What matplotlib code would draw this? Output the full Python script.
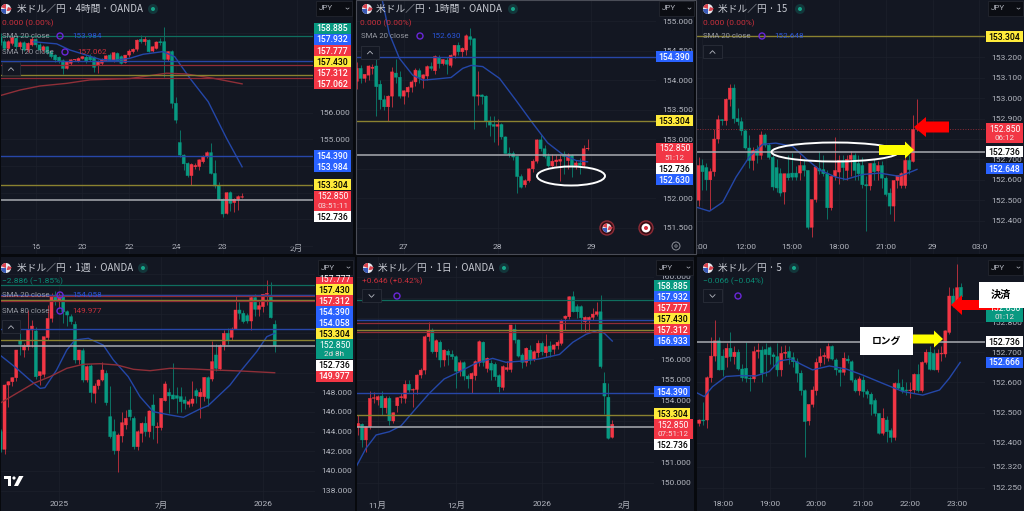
import matplotlib
matplotlib.use('Agg')
import matplotlib.pyplot as plt
from matplotlib.patches import Rectangle, Circle, Ellipse, Polygon, Wedge

plt.rcParams['font.family'] = ['Noto Sans CJK JP', 'DejaVu Sans']
NUM_FONT = ['Roboto', 'Noto Sans CJK JP']

BG = '#131722'
RED = '#f23645'
GREEN = '#089981'
BLUE = '#2962ff'
YELLOW = '#ffeb3b'
LINE_COL = {'g': '#0f6e5e', 'b': '#2746a8', 'r': '#8f2c37', 'y': '#8a8230', 'w': '#a9abb1'}
LINE_LW = {'g': 0.9, 'b': 1.0, 'r': 0.9, 'y': 1.0, 'w': 1.1}

# ---- candles: open, high, low, close
h4_first = -9
h4_ohlc = [
    (158.85,158.97,158.54,158.63),(158.66,158.75,158.35,158.41),(158.41,158.72,158.35,158.66),
    (158.60,158.90,158.55,158.82),(158.79,158.85,158.40,158.47),(158.47,158.70,158.40,158.62),
    (158.62,158.68,158.30,158.35),(158.35,158.65,158.28,158.60),(158.54,158.85,158.50,158.75),
    (158.75,158.80,158.48,158.54),(158.54,158.60,158.30,158.35),(158.35,158.52,158.28,158.47),
    (158.47,158.50,158.20,158.25),(158.29,158.33,158.05,158.10),(158.16,158.20,157.90,157.98),
    (158.08,158.12,157.85,157.91),(157.95,158.00,157.45,157.66),(157.66,157.95,157.62,157.91),
    (157.85,158.00,157.80,157.98),(157.98,158.02,157.93,158.00),(157.94,158.08,157.90,158.03),
    (158.03,158.12,158.00,158.10),(158.08,158.15,157.85,157.91),(158.10,158.20,157.95,157.98),
    (158.08,158.13,157.54,157.70),(157.79,157.98,157.47,157.91),(157.85,158.05,157.80,158.00),
    (157.95,158.18,157.92,158.13),(158.16,158.25,157.92,157.94),(157.95,158.28,157.90,158.25),
    (158.22,158.27,157.93,157.94),(158.10,158.15,157.82,157.85),(157.88,158.18,157.85,158.16),
    (158.16,158.40,158.10,158.31),(158.29,158.42,158.25,158.38),(158.38,158.75,158.32,158.72),
    (158.75,158.90,158.62,158.66),(158.66,158.88,158.55,158.75),(158.72,158.75,158.28,158.29),
    (158.31,158.50,158.28,158.47),(158.41,158.70,158.38,158.65),(158.66,158.80,158.55,158.62),
    (158.66,159.22,157.35,158.00),(158.00,158.30,157.95,158.29),(158.29,158.35,156.16,156.35),
    (156.35,156.60,155.62,155.72),(154.88,155.35,154.35,154.41),(154.41,154.45,153.85,154.08),
    (154.10,154.15,153.60,153.64),(153.64,154.12,153.29,154.06),(153.97,154.10,153.88,154.02),
    (153.98,154.28,153.85,154.23),(154.16,154.40,154.10,154.35),(154.35,154.55,154.30,154.50),
    (154.50,154.88,153.70,153.72),(153.72,154.22,153.16,153.25),(153.25,153.40,152.72,152.75),
    (152.75,152.80,152.10,152.20),(152.22,153.03,152.20,153.00),(153.00,153.05,152.30,152.60),
    (152.63,152.80,152.29,152.75),(152.75,152.90,152.35,152.85),(152.83,153.00,152.80,152.85),
]
h4_sma20_x = [-0.6,5.4,8.8,13,16.5,20,24.2,27.6,32.7,35.7,39.6,44.3,49,53]
h4_sma20 = [158.66,158.58,158.35,158.16,158.0,157.96,158.04,158.19,158.29,158.1,157.29,156.41,155.04,153.97]
h4_sma120_x = [-9.1,-4,1.1,8,14,24.2,33.6,38.7,45.6,53]
h4_sma120 = [156.64,156.85,157.0,157.1,157.23,157.28,157.48,157.45,157.29,157.08]

h1_first = -12
h1_ohlc = [
    (153.98,154.30,153.85,154.20),(154.20,154.25,153.95,154.03),(154.03,154.10,153.97,154.10),
    (154.085,154.26,154.00,154.24),(154.20,154.28,154.10,154.22),(154.24,154.40,153.39,153.89),
    (153.93,154.00,153.52,153.67),(153.67,153.75,153.50,153.55),(153.55,153.75,153.31,153.73),
    (153.73,154.22,153.55,154.14),(154.12,154.35,153.95,154.05),(154.05,154.16,153.70,153.73),
    (153.73,153.84,153.60,153.82),(153.80,153.90,153.72,153.88),(153.88,154.00,153.80,153.97),
    (153.97,154.20,153.90,154.17),(154.16,154.20,153.95,154.05),(154.03,154.10,153.86,154.09),
    (154.07,154.25,154.00,154.23),(154.23,154.30,154.18,154.20),(154.16,154.42,154.10,154.40),
    (154.38,154.42,154.20,154.28),(154.28,154.35,154.25,154.35),(154.34,154.40,154.10,154.27),
    (154.25,154.45,154.22,154.42),(154.42,154.60,154.38,154.59),(154.59,154.65,154.42,154.48),
    (154.48,154.56,154.40,154.54),(154.51,154.78,154.42,154.75),(154.735,154.88,154.60,154.69),
    (154.70,154.72,153.18,153.73),(153.73,154.15,153.58,153.75),(153.75,153.76,153.60,153.72),
    (153.73,153.75,153.20,153.31),(153.31,153.40,153.05,153.24),(153.25,153.40,152.95,153.22),
    (153.22,153.35,152.90,153.25),(153.25,153.28,153.00,153.04),(153.04,153.05,152.76,152.76),
    (152.76,152.87,152.70,152.75),(152.76,152.80,152.65,152.70),(152.71,152.72,152.09,152.37),
    (152.37,152.42,152.18,152.19),(152.23,152.33,152.20,152.30),(152.30,152.52,152.27,152.50),
    (152.50,152.66,152.45,152.63),(152.63,153.00,152.60,152.99),(152.99,153.07,152.80,152.84),
    (152.84,152.90,152.68,152.71),(152.71,152.76,152.53,152.55),(152.55,152.75,152.52,152.63),
    (152.62,152.73,152.55,152.65),(152.63,152.73,152.29,152.66),(152.75,152.80,152.42,152.71),
    (152.64,152.76,152.50,152.73),(152.73,152.75,152.36,152.56),(152.56,152.65,152.50,152.60),
    (152.60,152.68,152.41,152.56),(152.56,152.90,152.53,152.84),(152.84,153.00,152.82,152.85),
]
h1_sma_x = [-5.4,-3.7,-1.1,2.3,4.9,8.3,12.1,15.1,17.2,20.2,24.5,28.7,33,36.8,40.7,44.1,47]
h1_sma = [155.33,154.79,154.37,154.085,154.0,154.02,154.045,154.2,154.25,154.23,154.03,153.66,153.27,152.94,152.74,152.64,152.62]

m15_first = -12
m15_ohlc = [
    (152.50,152.71,152.47,152.67),(152.67,152.70,152.55,152.64),(152.66,152.68,152.55,152.60),
    (152.60,152.66,152.45,152.64),(152.64,152.85,152.62,152.80),(152.80,152.92,152.78,152.895),
    (152.895,152.90,152.87,152.89),(152.89,153.00,152.87,152.995),(152.995,153.07,152.96,153.05),
    (153.05,153.07,152.88,152.90),(152.90,152.95,152.87,152.885),(152.885,152.91,152.82,152.84),
    (152.84,152.85,152.75,152.756),(152.756,152.82,152.66,152.695),(152.695,152.76,152.65,152.744),
    (152.75,152.77,152.68,152.72),(152.72,152.84,152.70,152.82),(152.82,152.83,152.76,152.77),
    (152.77,152.78,152.70,152.71),(152.71,152.72,152.55,152.565),(152.66,152.70,152.54,152.56),
    (152.63,152.66,152.52,152.535),(152.54,152.63,152.48,152.63),(152.63,152.72,152.60,152.61),
    (152.633,152.73,152.60,152.613),(152.633,152.67,152.60,152.613),(152.633,152.72,152.60,152.67),
    (152.67,152.70,152.62,152.646),(152.646,152.65,152.36,152.367),(152.367,152.50,152.32,152.503),
    (152.503,152.67,152.49,152.663),(152.654,152.74,152.63,152.643),(152.65,152.72,152.62,152.63),
    (152.63,152.65,152.41,152.463),(152.463,152.62,152.45,152.617),(152.617,152.81,152.60,152.646),
    (152.638,152.72,152.58,152.695),(152.695,152.72,152.60,152.66),(152.646,152.72,152.60,152.70),
    (152.70,152.74,152.62,152.72),(152.72,152.73,152.60,152.646),(152.68,152.72,152.60,152.63),
    (152.67,152.71,152.56,152.576),(152.576,152.62,152.351,152.57),(152.57,152.68,152.55,152.68),
    (152.68,152.70,152.60,152.64),(152.643,152.69,152.60,152.67),(152.67,152.69,152.56,152.608),
    (152.608,152.62,152.52,152.528),(152.535,152.56,152.433,152.471),(152.471,152.60,152.397,152.597),
    (152.597,152.62,152.56,152.62),(152.572,152.64,152.56,152.63),(152.572,152.72,152.56,152.695),
    (152.695,152.72,152.63,152.65),(152.69,152.917,152.685,152.848),(152.848,152.995,152.84,152.851),
]
m15_sma_x = [-12.65,-9.2,-5.8,-2.4,1,4.4,7.8,12.1,15.6,19,23.2,25.8,30,34.4,39.5,43,44]
m15_sma = [152.466,152.446,152.49,152.613,152.712,152.774,152.78,152.764,152.703,152.649,152.613,152.602,152.626,152.633,152.617,152.643,152.651]

w1_first = -15
w1_ohlc = [
    (144.0,144.3,141.9,142.2),(142.2,148.8,141.69,148.74),(148.74,149.15,146.5,149.08),
    (149.08,149.6,148.6,149.49),(149.49,152.35,149.2,152.3),(153.25,154.1,151.8,152.88),
    (152.3,153.0,151.6,152.74),(152.64,156.37,152.3,154.34),(154.34,155.35,152.6,154.74),
    (154.24,154.6,149.4,149.59),(149.69,150.1,148.74,150.1),(149.83,153.66,149.6,153.66),
    (153.56,156.88,153.3,155.52),(155.52,158.1,155.2,157.73),(157.73,158.3,156.9,157.22),
    (157.2,158.1,156.6,157.7),(157.73,158.0,155.0,156.2),(156.2,156.4,154.74,155.86),
    (155.69,156.0,154.9,155.19),(154.91,155.3,150.95,151.29),(151.29,152.35,150.9,152.3),
    (152.24,152.5,149.0,149.25),(149.25,150.8,149.0,150.61),(150.68,150.9,147.05,147.97),
    (147.9,148.9,146.88,148.64),(148.68,149.4,148.3,149.25),(149.25,151.12,149.1,150.27),
    (149.93,150.27,146.7,146.95),(145.52,148.6,143.4,143.49),(144.0,145.3,141.69,142.07),
    (142.07,143.9,139.93,143.66),(143.56,146.0,142.9,144.91),(144.68,146.2,144.3,145.35),
    (146.2,148.68,145.2,145.52),(145.35,145.6,142.2,142.47),(142.47,144.2,142.13,143.99),
    (143.83,145.0,142.9,144.85),(144.85,145.6,143.6,144.0),(144.0,146.2,143.5,146.1),
    (146.71,147.8,143.3,144.61),(144.41,145.0,142.81,144.51),(144.41,147.4,144.2,147.39),
    (147.15,149.15,147.1,148.85),(148.0,148.4,145.86,147.63),(147.73,150.95,147.3,147.32),
    (147.66,148.5,145.9,147.39),(147.56,148.5,146.0,147.05),(147.22,147.6,146.3,146.88),
    (146.78,147.3,146.5,147.05),(146.88,149.15,146.6,147.32),(148.17,148.4,146.9,147.63),
    (147.56,148.4,145.42,148.0),(147.56,149.6,147.1,149.52),(149.49,149.7,146.64,147.39),
    (149.35,153.22,149.2,151.12),(151.8,152.9,150.2,150.44),(150.37,152.9,150.3,152.74),
    (152.81,154.3,152.3,154.0),(154.0,154.5,152.9,153.32),(153.59,154.6,153.3,154.44),
    (154.44,157.83,154.4,156.37),(156.37,157.22,155.5,156.03),(156.03,156.4,155.0,155.19),
    (155.8,156.1,155.0,155.25),(155.25,157.75,154.3,157.63),(157.63,158.0,155.8,156.44),
    (156.44,157.3,155.8,156.81),(156.71,158.0,156.2,157.97),(157.97,159.42,156.9,158.07),
    (157.83,159.19,155.59,155.59),(154.91,155.35,152.07,152.74),
]
w1_sma20_x = [-15.2,-10.9,-7.5,-4.9,-3.7,-0.7,1.9,4,7.4,11.2,13.8,17.6,20.6,24,28.3,31.7,35.9,38,43.6,46.2,50.4,53,55]
w1_sma20 = [151.8,150.44,149.25,148.4,148.47,150.27,152.3,153.32,153.49,152.81,151.29,149.59,147.56,146.03,145.69,145.46,146.3,146.64,148.74,150.1,152.13,153.66,154.0]
w1_sma80_x = [-15.2,-10.9,-6.6,-2.4,1.9,6.1,10.4,14.7,18.9,23.2,28.3,34.2,39.4,46.2,55]
w1_sma80 = [146.88,147.9,148.91,149.59,150.44,150.85,150.91,150.78,150.34,150.2,150.44,150.37,150.27,150.17,149.99]

d1_first = -5
d1_ohlc = [
    (152.73,153.3,152.33,152.89),(152.85,152.9,151.76,152.09),(152.09,152.75,151.52,152.73),
    (152.73,154.46,152.6,154.11),(154.11,154.4,153.9,154.14),(154.03,154.25,153.8,154.19),
    (154.22,154.46,153.3,153.65),(153.65,154.2,153.4,154.11),(154.11,154.2,152.81,153.02),
    (153.01,153.45,152.9,153.41),(153.75,154.16,153.46,154.14),(154.14,154.35,153.9,154.19),
    (154.11,155.0,153.9,154.79),(154.79,155.0,154.4,154.51),(154.51,154.6,153.7,154.54),
    (154.54,155.3,154.3,155.24),(155.24,155.6,155.1,155.48),(155.48,157.2,155.3,157.1),
    (157.1,157.83,156.9,157.42),(157.42,157.5,156.3,156.37),(156.37,157.0,156.1,156.91),
    (156.83,156.95,155.65,155.97),(155.97,156.5,155.7,156.45),(156.4,156.5,155.73,156.21),
    (156.24,156.45,156.0,156.13),(156.13,156.2,154.63,155.43),(155.43,155.95,155.2,155.84),
    (155.84,155.9,155.0,155.19),(155.19,155.3,154.59,155.05),(155.05,155.4,154.35,155.32),
    (155.21,155.95,155.0,155.89),(155.84,156.95,155.7,156.86),(156.83,156.9,155.7,155.86),
    (155.56,156.13,155.4,156.05),(155.81,155.95,155.0,155.48),(155.76,155.85,155.0,155.16),
    (155.21,155.3,154.4,154.67),(154.64,155.75,154.5,155.65),(155.51,155.92,155.45,155.6),
    (155.51,157.67,155.4,157.67),(157.47,157.7,156.8,156.94),(156.94,157.0,156.1,156.16),
    (156.21,156.3,155.56,155.86),(155.86,156.6,155.7,156.54),(156.45,156.7,155.8,155.97),
    (156.02,156.45,155.9,156.37),(156.32,156.94,156.1,156.78),(156.78,156.9,156.2,156.37),
    (156.32,157.22,156.13,156.62),(156.65,156.9,156.1,156.37),(156.49,156.75,156.25,156.7),
    (156.66,156.95,156.5,156.83),(156.78,157.95,156.7,157.86),(157.99,158.15,157.42,158.1),
    (158.07,159.06,157.95,159.04),(159.04,159.32,158.3,158.31),(158.56,158.7,158.0,158.31),
    (158.56,158.62,157.4,158.02),(157.83,158.1,157.34,158.04),(157.91,158.1,157.38,158.04),
    (158.04,158.5,157.9,158.2),(158.18,158.8,158.1,158.31),(158.31,159.12,155.6,155.65),
    (154.84,155.37,153.33,154.22),(154.16,154.84,152.12,152.17),(152.22,153.05,152.2,152.85),
]
d1_sma_x = [-5.5,-3,-0.4,3,6,9.8,13.2,17,20.9,25.1,29.4,32.8,37.1,41.3,46.5,49.9,53.3,56.3,58,60]
d1_sma = [150.79,151.68,152.33,152.49,152.78,153.62,154.35,155.05,155.4,155.81,156.05,155.86,155.92,156.02,156.24,156.83,157.22,157.41,157.26,156.89]

m5_first = -6
m5_ohlc = [
    (152.464,152.48,152.455,152.475),(152.475,152.535,152.46,152.472),(152.475,152.62,152.447,152.616),
    (152.616,152.753,152.6,152.688),(152.688,152.808,152.67,152.739),(152.739,152.753,152.64,152.642),
    (152.688,152.71,152.62,152.642),(152.683,152.731,152.65,152.714),(152.714,152.767,152.67,152.686),
    (152.686,152.72,152.66,152.701),(152.701,152.71,152.64,152.645),(152.645,152.66,152.605,152.616),
    (152.647,152.734,152.6,152.614),(152.614,152.62,152.572,152.612),(152.612,152.72,152.6,152.703),
    (152.703,152.731,152.68,152.708),(152.708,152.72,152.6,152.631),(152.71,152.73,152.62,152.693),
    (152.716,152.72,152.66,152.692),(152.692,152.7,152.65,152.686),(152.686,152.73,152.62,152.642),
    (152.642,152.72,152.62,152.697),(152.697,152.725,152.68,152.701),(152.703,152.72,152.66,152.683),
    (152.683,152.7,152.65,152.669),(152.669,152.68,152.6,152.631),(152.631,152.64,152.56,152.573),
    (152.573,152.58,152.353,152.47),(152.472,152.53,152.46,152.527),(152.527,152.59,152.52,152.575),
    (152.573,152.68,152.56,152.667),(152.666,152.714,152.655,152.686),(152.686,152.7,152.66,152.69),
    (152.681,152.73,152.67,152.72),(152.72,152.725,152.675,152.678),(152.675,152.68,152.625,152.642),
    (152.642,152.65,152.59,152.634),(152.634,152.703,152.625,152.681),(152.678,152.69,152.665,152.672),
    (152.669,152.675,152.6,152.608),(152.608,152.615,152.57,152.572),(152.572,152.62,152.56,152.612),
    (152.608,152.62,152.553,152.57),(152.57,152.58,152.55,152.561),(152.561,152.57,152.492,152.528),
    (152.54,152.55,152.49,152.497),(152.497,152.5,152.43,152.431),(152.431,152.514,152.425,152.481),
    (152.475,152.49,152.401,152.436),(152.44,152.45,152.403,152.417),(152.417,152.6,152.41,152.597),
    (152.597,152.645,152.58,152.581),(152.584,152.61,152.565,152.572),(152.575,152.6,152.56,152.573),
    (152.573,152.6,152.55,152.575),(152.575,152.63,152.565,152.627),(152.627,152.66,152.57,152.573),
    (152.573,152.67,152.57,152.667),(152.667,152.71,152.66,152.701),(152.701,152.72,152.64,152.644),
    (152.697,152.71,152.64,152.642),(152.642,152.71,152.635,152.697),(152.695,152.72,152.67,152.697),
    (152.695,152.775,152.685,152.772),(152.767,152.917,152.76,152.888),(152.888,152.915,152.85,152.858),
    (152.858,152.994,152.85,152.916),(152.917,152.931,152.88,152.886),
]
m5_sma_x = [-6.8,-4.7,-2.6,0.85,4.3,8.5,11.9,14.5,17.5,20.5,23,27.3,31.6,35.8,41,46.1,51.2,55.5,58,60.8]
m5_sma = [152.567,152.553,152.586,152.62,152.623,152.622,152.636,152.672,152.678,152.658,152.642,152.655,152.645,152.625,152.597,152.57,152.558,152.575,152.614,152.667]

# ---- horizontal price levels
levels_all = [(158.885,'g'),(157.932,'b'),(157.777,'r'),(157.43,'y'),(157.312,'r'),(154.39,'b'),(153.304,'y'),(152.736,'w')]
levels_h1 = [(154.39,'b'),(153.304,'y'),(152.736,'w')]
levels_m15 = [(153.304,'y'),(152.736,'w')]
levels_m5 = [(152.736,'w')]

# ---- axis ticks
h4_yt = [159,158,157,156,155,154,153,152,151]
h4_yl = [156,155]
h1_yt = [155,154.5,154,153.5,153,152.5,152,151.5]
h1_yl = [155,154.5,154,153.5,153,152,151.5]
m15_yt = [153.2,153.1,153,152.9,152.8,152.7,152.6,152.5,152.4]
m15_yl = [153.2,153.1,153,152.9,152.7,152.6,152.5,152.4]
w1_yt = [138,140,142,144,146,148,150,152,154,156,158,160]
w1_yl = [138,140,142,144,146,148]
d1_yt = [150,151,152,153,154,155,156,157,158,159,160]
d1_yl = [150,151,154,155,156,160]
m5_yt = [152.8,152.7,152.6,152.5,152.4,152.32,152.25]
m5_yl = m5_yt

h4_xt, h4_xl = [0,12,24,36,48,67], ['16','20','22','24','28','2月']
h1_xt, h1_xl = [0,24,48], ['27','28','29']
m15_xt, m15_xl = [-11,0,12,24,36,48,60], [':00','12:00','15:00','18:00','21:00','29','03:0']
w1_xt, w1_xl = [0,26,52], ['2025','7月','2026']
d1_xt, d1_xl = [0,20,42,63], ['11月','12月','2026','2月']
m5_xt, m5_xl = [0,12,24,36,48,60], ['18:00','19:00','20:00','21:00','22:00','23:00']

W, H = 1024, 511
fig = plt.figure(figsize=(W/100, H/100), dpi=100, facecolor='#07090d')


def add_panel(px, py, xlim, ylim):
    ax = fig.add_axes([px[0]/W, 1-py[1]/H, (px[1]-px[0])/W, (py[1]-py[0])/H])
    ax.set_facecolor(BG)
    ax.set_xlim(xlim)
    ax.set_ylim(ylim)
    for s in ax.spines.values():
        s.set_visible(False)
    return ax


def draw_panel(ax, first, ohlc, levels, smas, yt, yl, xt, xl):
    ax.grid(True, color='#1c202c', lw=0.5, zorder=0)
    ax.set_axisbelow(True)
    for i, (o, h, l, c) in enumerate(ohlc):
        x = first + i
        col = RED if c >= o else GREEN
        ax.vlines(x, l, h, color=col, lw=0.7, alpha=0.7, zorder=2)
        bars = ax.bar(x, abs(c-o), bottom=min(o, c), width=0.78, color=col, lw=0.3, edgecolor=col, zorder=2.5)
        bars[0].set_snap(False)
    for xs, ys, col in smas:
        ax.plot(xs, ys, color=col, lw=1.0, zorder=3)
    for v, k in levels:
        ax.axhline(v, color=LINE_COL[k], lw=LINE_LW[k], zorder=3.5)
    ax.yaxis.tick_right()
    ax.set_yticks(yt)
    ax.set_yticklabels([f'{v:.3f}' if v in yl else '' for v in yt], fontsize=6.1,
                       color='#b2b5be', family=NUM_FONT)
    ax.set_xticks(xt)
    ax.set_xticklabels(xl, fontsize=6.1, color='#b2b5be', family=NUM_FONT)
    ax.tick_params(axis='y', length=0, pad=4.6)
    ax.tick_params(axis='x', length=0, pad=-7.4)


SMA_B, SMA_R = '#2447a8', '#8f2f38'
ax1 = add_panel((1, 313), (0, 254), (-8.89, 71.2), (150.7, 160.225))
draw_panel(ax1, h4_first, h4_ohlc, levels_all, [(h4_sma20_x, h4_sma20, SMA_B), (h4_sma120_x, h4_sma120, SMA_R)],
           h4_yt, h4_yl, h4_xt, h4_xl)
ax2 = add_panel((357, 656), (0, 254), (-11.94, 64.5), (151.06, 155.356))
draw_panel(ax2, h1_first, h1_ohlc, levels_h1, [(h1_sma_x, h1_sma, SMA_B)], h1_yt, h1_yl, h1_xt, h1_xl)
ax3 = add_panel((697, 985), (0, 254), (-12.4, 61.45), (152.236, 153.482))
draw_panel(ax3, m15_first, m15_ohlc, levels_m15, [(m15_sma_x, m15_sma, SMA_B)], m15_yt, m15_yl, m15_xt, m15_xl)
ax3.axhline(152.85, color='#8f2c37', lw=0.7, ls=':', zorder=3.5)
ax4 = add_panel((1, 315), (257, 511), (-14.9, 65.3), (135.93, 161.76))
draw_panel(ax4, w1_first, w1_ohlc, levels_all, [(w1_sma20_x, w1_sma20, SMA_B), (w1_sma80_x, w1_sma80, SMA_R)],
           w1_yt, w1_yl, w1_xt, w1_xl)
ax5 = add_panel((357, 654), (257, 511), (-5.29, 70.67), (148.64, 160.97))
draw_panel(ax5, d1_first, d1_ohlc, levels_all, [(d1_sma_x, d1_sma, SMA_B)], d1_yt, d1_yl, d1_xt, d1_xl)
ax6 = add_panel((697, 985), (257, 511), (-6.57, 67.15), (152.172, 153.018))
draw_panel(ax6, m5_first, m5_ohlc, levels_m5, [(m5_sma_x, m5_sma, SMA_B)], m5_yt, m5_yl, m5_xt, m5_xl)

# price-scale strips keep panel colour behind the tick labels
for x0, x1, y0, y1 in [(313,353,0,254),(656,694,0,254),(985,1024,0,254),(315,355,257,511),(654,694,257,511),(985,1024,257,511)]:
    fig.patches.append(Rectangle((x0/W, 1-y1/H), (x1-x0)/W, (y1-y0)/H, transform=fig.transFigure, fc=BG, ec='none', zorder=-1))

# overlay in image pixels for badges, legends and drawn annotations
ov = fig.add_axes([0, 0, 1, 1], zorder=10)
ov.set_xlim(0, W)
ov.set_ylim(H, 0)
ov.axis('off')
ov.patch.set_alpha(0)


def badge(x0, x1, y, label, fc, tc='white', h=11):
    ov.add_patch(Rectangle((x0, y-h/2), x1-x0, h, fc=fc, ec='none'))
    ov.text((x0+x1)/2, y+0.2, label, ha='center', va='center', color=tc, fontsize=6.2, family=NUM_FONT, fontweight='medium')


def two_line(x0, x1, y0, y1, l1, l2, fc):
    ov.add_patch(Rectangle((x0, y0), x1-x0, y1-y0, fc=fc, ec='none'))
    ov.text((x0+x1)/2, y0+(y1-y0)*0.29, l1, ha='center', va='center', color='white', fontsize=6.2, family=NUM_FONT)
    ov.text((x0+x1)/2, y0+(y1-y0)*0.74, l2, ha='center', va='center', color='#f4dfe1', fontsize=5.8, family=NUM_FONT)


def flag(x, y, r=5):
    ov.add_patch(Circle((x, y), r, fc='#e8e8ee', ec='none'))
    ov.add_patch(Wedge((x, y), r, 90, 180, fc='#3a5bb8', ec='none'))
    ov.add_patch(Wedge((x, y), r, 200, 270, fc='#d9434f', ec='none'))
    ov.add_patch(Wedge((x+2, y-2), 4, 20, 110, fc='#d9434f', ec='none'))


def title(x, y, fx, dot, label):
    flag(fx, y)
    ov.text(x, y, label, ha='left', va='center', color='#c8cbd3', fontsize=7.0)
    ov.add_patch(Circle((dot, y), 5, fc='#12363a', ec='none'))
    ov.add_patch(Circle((dot, y), 2, fc='#17a589', ec='none'))


def jpy(x0, x1, y0, y1):
    ov.add_patch(Rectangle((x0, y0), x1-x0, y1-y0, fc='#0b0d13', ec='#23262f', lw=0.6))
    ov.text(x0+3, (y0+y1)/2, 'JPY', ha='left', va='center', color='#b2b5be', fontsize=5.8, family=NUM_FONT)
    ov.plot([x1-6, x1-4.5, x1-3], [(y0+y1)/2-0.5, (y0+y1)/2+0.7, (y0+y1)/2-0.5], color='#b2b5be', lw=0.5)


def legend(x, y, name, cx, vx, val, col):
    ov.text(x, y, name, ha='left', va='center', color='#9598a1', fontsize=5.6, family=NUM_FONT)
    ov.add_patch(Circle((cx, y), 3, fc='none', ec='#6a27d9', lw=1.0))
    ov.text(vx, y, val, ha='left', va='center', color=col, fontsize=5.9, family=NUM_FONT)


def chevron(x0, x1, yc, up=True):
    ov.add_patch(Rectangle((x0, yc-6.5), x1-x0, 13, fc=BG, ec='#2a2e39', lw=0.6))
    m, d = (x0+x1)/2, (1.3 if up else -1.3)
    ov.plot([m-2.5, m, m+2.5], [yc+d, yc-d, yc+d], color='#b2b5be', lw=0.6)


def arrow_poly(x_tip, x_tail, y, head, half_body, half_head, col):
    s = 1 if x_tail > x_tip else -1
    pts = [(x_tip, y), (x_tip+s*head, y-half_head), (x_tip+s*head, y-half_body), (x_tail, y-half_body),
           (x_tail, y+half_body), (x_tip+s*head, y+half_body), (x_tip+s*head, y+half_head)]
    ov.add_patch(Polygon(pts, closed=True, fc=col, ec='none'))


# panel 1
title(17, 9, 6, 153, '米ドル／円 · 4時間 · OANDA')
ov.text(2, 23, '0.000 (0.00%)', ha='left', va='center', color='#c9303c', fontsize=6.0, family=NUM_FONT)
legend(2, 36, 'SMA 20 close', 60, 72, '153.984', '#2a55d8')
legend(2, 52, 'SMA 120 close', 65, 77, '157.062', '#c9303c')
chevron(2, 20, 69)
jpy(316, 352, 1, 16)
for y, t, c, tc in [(28.5,'158.885',GREEN,'white'),(39.5,'157.932',BLUE,'white'),(51,'157.777',RED,'white'),
                    (62,'157.430',YELLOW,'black'),(73,'157.312',RED,'white'),(84,'157.062',RED,'white'),
                    (156,'154.390',BLUE,'white'),(167,'153.984',BLUE,'white'),(185,'153.304',YELLOW,'black'),
                    (217,'152.736','white','black')]:
    badge(314, 351, y, t, c, tc)
two_line(314, 351, 191, 211, '152.850', '03:51:11', RED)

# panel 2
title(376, 9, 367, 513, '米ドル／円 · 1時間 · OANDA')
ov.text(360, 23, '0.000 (0.00%)', ha='left', va='center', color='#c9303c', fontsize=6.0, family=NUM_FONT)
legend(361, 36, 'SMA 20 close', 420, 431, '152.630', '#2a55d8')
chevron(361, 379, 52.5)
jpy(659, 694, 1, 16)
for y, t, c, tc in [(57,'154.390',BLUE,'white'),(121,'153.304',YELLOW,'black'),(169,'152.736','white','black'),(180,'152.630',BLUE,'white')]:
    badge(656, 693, y, t, c, tc)
two_line(656, 693, 143, 163.5, '152.850', '51:12', RED)
ov.add_patch(Ellipse((571, 176), 68, 19, fc='none', ec='white', lw=1.4))
for x in [607, 646]:
    ov.add_patch(Circle((x, 228), 7, fc='#3a0d14', ec='#8f2c37', lw=1.0))
flag(607, 228, 4.5)
ov.add_patch(Circle((646, 228), 4.5, fc='white', ec='none'))
ov.add_patch(Circle((646, 228), 2, fc='#d9303f', ec='none'))
ov.add_patch(Circle((676, 246), 4, fc='none', ec='#8b8e97', lw=0.7))
ov.add_patch(Circle((676, 246), 1.2, fc='none', ec='#8b8e97', lw=0.6))

# panel 3
title(718, 9, 708, 800, '米ドル／円 · 15')
ov.text(703, 23, '0.000 (0.00%)', ha='left', va='center', color='#c9303c', fontsize=6.0, family=NUM_FONT)
legend(703, 36, 'SMA 20 close', 762, 774, '152.648', '#2a55d8')
chevron(703, 722, 52)
jpy(988, 1023, 1, 16)
for y, t, c, tc in [(37,'153.304',YELLOW,'black'),(152,'152.736','white','black'),(169,'152.648',BLUE,'white')]:
    badge(986, 1023, y, t, c, tc)
two_line(986, 1023, 123.5, 143.5, '152.850', '06:12', RED)
ov.add_patch(Ellipse((835, 152), 127, 19, fc='none', ec='white', lw=1.4))
arrow_poly(914, 879, 150, 9, 5, 8.5, '#ffff00')
arrow_poly(914, 949, 127, 12, 5.5, 10, '#ff0000')

# panel 4
title(17, 268, 6, 143, '米ドル／円 · 1週 · OANDA')
ov.text(2, 281.5, '−2.886 (−1.85%)', ha='left', va='center', color='#0b8a74', fontsize=6.0, family=NUM_FONT)
legend(2, 295, 'SMA 20 close', 60, 72, '154.058', '#2a55d8')
legend(2, 311, 'SMA 80 close', 60, 72, '149.977', '#c9303c')
chevron(2, 20, 327)
jpy(318, 353, 260, 275)
top = Rectangle((316, 277.5), 37, 7, fc=RED, ec='none')
ov.add_patch(top)
t = ov.text(334.5, 279.8, '157.777', ha='center', va='center', color='white', fontsize=6.2, family=NUM_FONT)
t.set_clip_path(top)
for y, lab, c, tc in [(290,'157.430',YELLOW,'black'),(301,'157.312',RED,'white'),(312,'154.390',BLUE,'white'),
                      (323,'154.058',BLUE,'white'),(334,'153.304',YELLOW,'black'),(365.3,'152.736','white','black'),
                      (376.7,'149.977',RED,'white')]:
    badge(316, 353, y, lab, c, tc)
two_line(316, 353, 339.5, 359.5, '152.850', '2d 8h', GREEN)
ov.add_patch(Rectangle((4, 476), 7, 3, fc='white', ec='none'))
ov.add_patch(Rectangle((8, 476), 3, 10, fc='white', ec='none'))
ov.add_patch(Circle((14, 478), 1.6, fc='white', ec='none'))
ov.add_patch(Polygon([(19, 476), (23.5, 476), (18, 486), (14, 486)], closed=True, fc='white', ec='none'))

# panel 5
title(378, 268, 368, 504, '米ドル／円 · 1日 · OANDA')
ov.text(362, 281.5, '+0.646 (+0.42%)', ha='left', va='center', color='#c9303c', fontsize=6.0, family=NUM_FONT)
chevron(362, 381, 296, up=False)
ov.add_patch(Circle((397, 296), 3, fc='none', ec='#6a27d9', lw=1.0))
jpy(656, 693, 260, 275)
for y, lab, c, tc in [(286,'158.885',GREEN,'white'),(297,'157.932',BLUE,'white'),(308,'157.777',RED,'white'),
                      (319,'157.430',YELLOW,'black'),(330,'157.312',RED,'white'),(341,'156.933',BLUE,'white'),
                      (392,'154.390',BLUE,'white'),(414,'153.304',YELLOW,'black'),(445,'152.736','white','black')]:
    badge(654, 690, y, lab, c, tc)
two_line(654, 693, 419.5, 439.5, '152.850', '07:51:12', RED)

# panel 6
title(718, 268, 708, 794, '米ドル／円 · 5')
ov.text(703, 281.5, '−0.066 (−0.04%)', ha='left', va='center', color='#0b8a74', fontsize=6.0, family=NUM_FONT)
chevron(703, 722, 296, up=False)
ov.add_patch(Circle((738, 296), 3, fc='none', ec='#6a27d9', lw=1.0))
jpy(988, 1023, 260, 275)
two_line(986, 1023, 303, 322, '152.850', '01:12', GREEN)
badge(986, 1023, 342, '152.736', 'white', 'black')
badge(986, 1023, 362.7, '152.666', BLUE, 'white')
arrow_poly(951, 1000, 305, 11, 5, 10, '#ff0000')
ov.add_patch(Rectangle((979, 282), 45, 26, fc='white', ec='none'))
ov.text(1001, 295, '決済', ha='center', va='center', color='black', fontsize=7.3, fontweight='bold')
arrow_poly(943, 913, 339, 9, 4.5, 8.5, '#ffff00')
ov.add_patch(Rectangle((860, 327), 53, 28, fc='white', ec='none'))
ov.text(886.5, 341, 'ロング', ha='center', va='center', color='black', fontsize=7.0, fontweight='bold')

# lighter frame of the selected chart
ov.add_patch(Rectangle((356, 0), 340, 254, fc='none', ec='#4a4d57', lw=0.8))

fig.savefig('out.png', dpi=100, facecolor=fig.get_facecolor())
